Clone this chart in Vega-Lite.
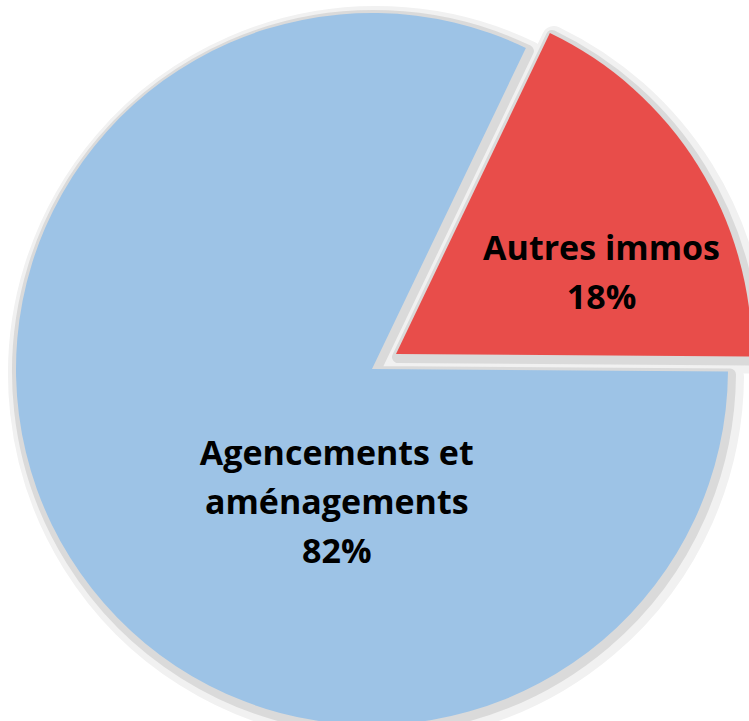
{
  "$schema": "https://vega.github.io/schema/vega-lite/v6.json",
  "width": 744,
  "height": 704,
  "padding": {"left": 0, "top": 17, "right": 5, "bottom": 0},
  "autosize": {"type": "none"},
  "background": "white",
  "view": {"stroke": null},
  "data": {
    "values": [
      {"cat": "Autres immos", "value": 18, "label": "Autres immos\n18%"},
      {"cat": "Agencements et aménagements", "value": 82, "label": "Agencements et\naménagements\n82%"}
    ]
  },
  "encoding": {
    "theta": {"field": "value", "type": "quantitative", "stack": true, "scale": {"range": [0.447, 6.7302]}},
    "order": {"field": "cat", "sort": "descending"}
  },
  "layer": [
    {
      "mark": {"type": "arc", "outerRadius": 356, "fill": "#f1f1f1", "stroke": "#f1f1f1", "strokeWidth": 24, "strokeJoin": "round", "xOffset": 4, "yOffset": 5},
      "encoding": {"opacity": {"condition": {"test": "datum.cat === 'Autres immos'", "value": 0}, "value": 1}}
    },
    {
      "mark": {"type": "arc", "outerRadius": 356, "fill": "#f1f1f1", "stroke": "#f1f1f1", "strokeWidth": 24, "strokeJoin": "round", "xOffset": 28, "yOffset": -10},
      "encoding": {"opacity": {"condition": {"test": "datum.cat === 'Autres immos'", "value": 1}, "value": 0}}
    },
    {
      "mark": {"type": "arc", "outerRadius": 356, "fill": "#dadada", "stroke": "#dadada", "strokeWidth": 12, "strokeJoin": "round", "xOffset": 2, "yOffset": 3},
      "encoding": {"opacity": {"condition": {"test": "datum.cat === 'Autres immos'", "value": 0}, "value": 1}}
    },
    {
      "mark": {"type": "arc", "outerRadius": 356, "fill": "#dadada", "stroke": "#dadada", "strokeWidth": 12, "strokeJoin": "round", "xOffset": 26, "yOffset": -12},
      "encoding": {"opacity": {"condition": {"test": "datum.cat === 'Autres immos'", "value": 1}, "value": 0}}
    },
    {
      "mark": {"type": "arc", "outerRadius": 356},
      "encoding": {
        "color": {"field": "cat", "type": "nominal", "scale": {"domain": ["Autres immos", "Agencements et aménagements"], "range": ["#E84D4A", "#9DC3E6"]}, "legend": null},
        "opacity": {"condition": {"test": "datum.cat === 'Autres immos'", "value": 0}, "value": 1}
      }
    },
    {
      "mark": {"type": "arc", "outerRadius": 356, "xOffset": 24, "yOffset": -15},
      "encoding": {
        "color": {"field": "cat", "type": "nominal", "scale": {"domain": ["Autres immos", "Agencements et aménagements"], "range": ["#E84D4A", "#9DC3E6"]}, "legend": null},
        "opacity": {"condition": {"test": "datum.cat === 'Autres immos'", "value": 1}, "value": 0}
      }
    },
    {
      "mark": {"type": "text", "radius": 240, "dx": 26, "dy": 8, "font": "Open Sans", "fontWeight": "bold", "fontSize": 34, "lineHeight": 49, "lineBreak": "\n", "color": "black", "align": "center", "baseline": "middle"},
      "encoding": {
        "text": {"condition": {"test": "datum.cat === 'Autres immos'", "field": "label"}, "value": ""}
      }
    },
    {
      "mark": {"type": "text", "radius": 150, "dx": 92, "dy": 7, "font": "Open Sans", "fontWeight": "bold", "fontSize": 34, "lineHeight": 49, "lineBreak": "\n", "color": "black", "align": "center", "baseline": "middle"},
      "encoding": {
        "text": {"condition": {"test": "datum.cat === 'Autres immos'", "value": ""}, "field": "label"}
      }
    }
  ]
}
